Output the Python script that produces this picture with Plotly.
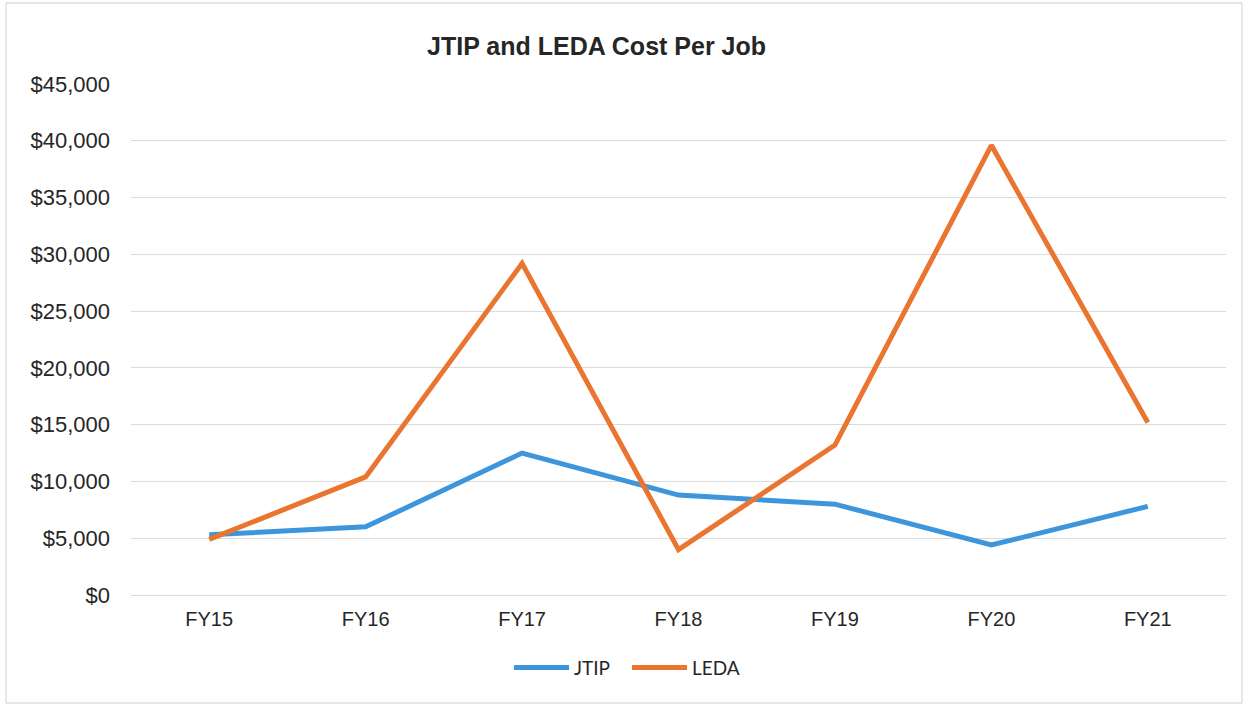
import plotly.graph_objects as go

years = ["FY15", "FY16", "FY17", "FY18", "FY19", "FY20", "FY21"]
jtip = [5300, 6000, 12500, 8800, 8000, 4400, 7800]
leda = [4900, 10400, 29200, 4000, 13200, 39600, 15200]

BLUE = "#3d95dc"
ORANGE = "#ea7530"

fig = go.Figure()
fig.add_trace(go.Scatter(x=years, y=jtip, name="JTIP", mode="lines",
                         line=dict(color=BLUE, width=5)))
fig.add_trace(go.Scatter(x=years, y=leda, name="LEDA", mode="lines",
                         line=dict(color=ORANGE, width=5)))

fig.update_layout(
    width=1248, height=706,
    plot_bgcolor="white", paper_bgcolor="white",
    font=dict(family="Liberation Sans, Arial, sans-serif", size=20, color="#262626"),
    margin=dict(l=131, r=22, t=84, b=111),
    title=dict(text="<b>JTIP and LEDA Cost Per Job</b>", x=0.478, xanchor="center",
               y=0.934, yanchor="middle", font=dict(size=25, color="#262626")),
    xaxis=dict(range=[-0.5, 6.5], showgrid=False, showline=False, ticks="",
               ticklabelstandoff=10, tickfont=dict(size=20)),
    yaxis=dict(range=[0, 45000], dtick=5000, tickprefix="$", tickformat=",d",
               showgrid=True, gridcolor="#dcdcdc", gridwidth=1, zeroline=True,
               zerolinecolor="#dcdcdc", zerolinewidth=1, showline=False,
               ticklabelstandoff=20, tickfont=dict(size=22)),
    legend=dict(orientation="h", x=0.453, xanchor="center", y=-0.105, yanchor="top",
                font=dict(family="Lato, sans-serif", size=19), itemwidth=55,
                entrywidth=48, bgcolor="rgba(0,0,0,0)"),
    shapes=[dict(type="rect", xref="paper", yref="paper",
                 x0=-125 / 1095, x1=1 + 16 / 1095, y0=-108 / 511, y1=1 + 81 / 511,
                 line=dict(color="#cfcfcf", width=1))],
)

fig.write_html("out.html", config={"displayModeBar": False},
               post_script="document.body.style.margin='0';")
